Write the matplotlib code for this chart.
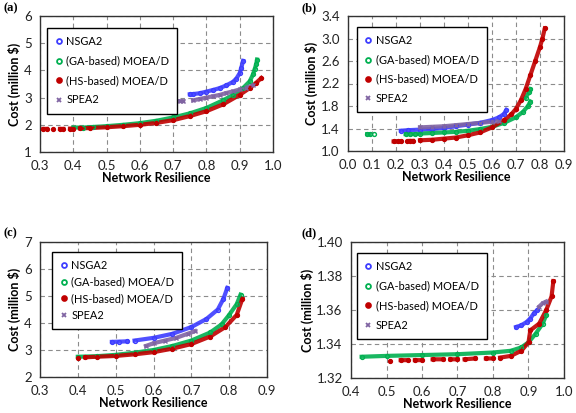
import numpy as np
import matplotlib.pyplot as plt

nan = np.nan

# nan entries only break the band between separate clusters of points

# ---- panel (a) ----
a_nsga_x = [0.75, 0.76, 0.78, 0.80, 0.82, 0.84, 0.86, 0.88, 0.89, 0.90, 0.905, 0.91]
a_nsga_y = [3.12, 3.13, 3.16, 3.22, 3.28, 3.35, 3.45, 3.58, 3.70, 3.90, 4.10, 4.35]
a_ga_x = [0.40, 0.43, 0.46, 0.50, 0.55, 0.60, 0.65, 0.70, 0.75, 0.80, 0.85, 0.88, 0.91, 0.93, 0.94, 0.945, 0.95, 0.952]
a_ga_y = [1.90, 1.90, 1.92, 1.95, 2.00, 2.06, 2.15, 2.27, 2.42, 2.62, 2.90, 3.10, 3.35, 3.60, 3.85, 4.05, 4.25, 4.40]
a_hs_x = [0.31, 0.32, nan, 0.34, nan, 0.36, 0.37, nan, 0.39, 0.40, nan, 0.42, 0.45, 0.50, 0.55, 0.60, 0.65, 0.70, 0.75, 0.80, 0.85, 0.90, 0.93, 0.95, 0.965]
a_hs_y = [1.85, 1.85, nan, 1.85, nan, 1.85, 1.85, nan, 1.86, 1.86, nan, 1.87, 1.88, 1.91, 1.95, 2.00, 2.07, 2.17, 2.32, 2.50, 2.75, 3.10, 3.35, 3.55, 3.72]
a_spea_x = [0.72, 0.73, nan, 0.76, 0.78, 0.80, 0.82, 0.84, 0.86, 0.88, 0.90, 0.92, 0.94]
a_spea_y = [2.87, 2.87, nan, 2.90, 2.95, 3.00, 3.05, 3.10, 3.17, 3.23, 3.30, 3.37, 3.45]

# ---- panel (b) ----
b_nsga_x = [0.22, 0.25, 0.30, 0.35, 0.40, 0.45, 0.50, 0.55, 0.60, 0.63, 0.65, 0.66]
b_nsga_y = [1.36, 1.37, 1.38, 1.39, 1.41, 1.44, 1.47, 1.50, 1.55, 1.60, 1.66, 1.73]
b_ga_x = [0.08, 0.09, nan, 0.11, nan, 0.24, 0.26, 0.28, 0.30, 0.35, 0.40, 0.45, 0.50, 0.55, 0.60, 0.65, 0.70, 0.73, 0.75, 0.76, nan, 0.74, 0.755, 0.76]
b_ga_y = [1.30, 1.30, nan, 1.30, nan, 1.30, 1.30, 1.30, 1.31, 1.32, 1.33, 1.34, 1.36, 1.39, 1.43, 1.50, 1.60, 1.70, 1.80, 1.88, nan, 1.95, 2.05, 2.10]
b_hs_x = [0.19, 0.21, 0.22, nan, 0.245, nan, 0.26, 0.27, nan, 0.30, 0.35, 0.40, 0.45, 0.50, 0.55, 0.60, 0.65, 0.68, 0.70, 0.72, 0.74, 0.76, 0.78, 0.80, 0.81, 0.82]
b_hs_y = [1.17, 1.17, 1.17, nan, 1.18, nan, 1.18, 1.18, nan, 1.19, 1.20, 1.22, 1.24, 1.28, 1.33, 1.42, 1.55, 1.65, 1.75, 1.90, 2.10, 2.35, 2.60, 2.85, 3.00, 3.18]
b_spea_x = [0.30, 0.35, 0.40, 0.45, 0.50, 0.55, 0.60, 0.63]
b_spea_y = [1.42, 1.43, 1.44, 1.46, 1.48, 1.50, 1.52, 1.53]

# ---- panel (c) ----
c_nsga_x = [0.49, 0.51, 0.53, nan, 0.55, 0.60, 0.65, 0.70, 0.74, 0.77, 0.785, 0.795]
c_nsga_y = [3.30, 3.31, 3.32, nan, 3.35, 3.45, 3.60, 3.85, 4.15, 4.50, 4.90, 5.30]
c_ga_x = [0.40, 0.45, 0.50, 0.55, 0.60, 0.65, 0.70, 0.75, 0.78, 0.80, 0.82, 0.83]
c_ga_y = [2.75, 2.77, 2.82, 2.90, 3.00, 3.15, 3.35, 3.65, 3.95, 4.30, 4.70, 5.05]
c_hs_x = [0.40, nan, 0.42, 0.45, 0.50, 0.55, 0.60, 0.65, 0.70, 0.75, 0.79, 0.82, 0.835]
c_hs_y = [2.72, nan, 2.73, 2.75, 2.78, 2.84, 2.92, 3.05, 3.22, 3.50, 3.85, 4.30, 4.90]
c_spea_x = [0.58, 0.60, 0.63, 0.66, 0.69, 0.71]
c_spea_y = [3.15, 3.25, 3.35, 3.45, 3.60, 3.70]

# ---- panel (d) ----
d_nsga_x = [0.865, 0.88, 0.895, 0.905, 0.915, 0.925]
d_nsga_y = [1.350, 1.351, 1.353, 1.355, 1.358, 1.360]
d_ga_x = [0.43, 0.50, 0.60, 0.70, 0.80, 0.85, 0.88, 0.90, 0.92, 0.94, 0.95]
d_ga_y = [1.3325, 1.333, 1.3335, 1.334, 1.335, 1.336, 1.338, 1.341, 1.346, 1.352, 1.357]
d_hs_x = [0.51, nan, 0.54, 0.56, nan, 0.58, 0.60, nan, 0.63, 0.66, nan, 0.68, 0.70, nan, 0.72, 0.75, nan, 0.78, 0.80, nan, 0.82, 0.85, 0.88, 0.90, 0.905, 0.93, 0.95, 0.965, 0.97]
d_hs_y = [1.330, nan, 1.3305, 1.3305, nan, 1.3305, 1.3305, nan, 1.331, 1.331, nan, 1.331, 1.331, nan, 1.331, 1.3315, nan, 1.3315, 1.3315, nan, 1.332, 1.333, 1.336, 1.341, 1.348, 1.352, 1.360, 1.368, 1.377]
d_spea_x = [0.93, 0.94, 0.95]
d_spea_y = [1.362, 1.364, 1.365]

labels = ["NSGA2", "(GA-based) MOEA/D", "(HS-based) MOEA/D", "SPEA2"]
colors = ["#3d3dff", "#00b050", "#c00000", "#8064a2"]
markers = ["o", "o", "o", "x"]
filled = [False, False, True, False]

panels = [
    dict(tag="(a)", tagxy=(3, 8), pos=[40, 16, 273, 152], leg=(0.03, 0.915), lsp=0.78,
         xlim=(0.3, 1.0), ylim=(1, 6),
         xticks=np.arange(0.3, 1.01, 0.1), yticks=np.arange(1, 6.1, 1), yfmt="{:.0f}",
         series=[(a_nsga_x, a_nsga_y), (a_ga_x, a_ga_y), (a_hs_x, a_hs_y), (a_spea_x, a_spea_y)]),
    dict(tag="(b)", tagxy=(301, 8), pos=[348, 16, 564, 151], leg=(0.04, 0.92), lsp=0.76,
         xlim=(0.0, 0.9), ylim=(1.0, 3.4),
         xticks=np.arange(0.0, 0.91, 0.1), yticks=np.arange(1.0, 3.41, 0.4), yfmt="{:.1f}",
         series=[(b_nsga_x, b_nsga_y), (b_ga_x, b_ga_y), (b_hs_x, b_hs_y), (b_spea_x, b_spea_y)]),
    dict(tag="(c)", tagxy=(3, 233), pos=[40, 242, 267, 377], leg=(0.053, 0.926), lsp=0.5,
         xlim=(0.3, 0.9), ylim=(2, 7),
         xticks=np.arange(0.3, 0.91, 0.1), yticks=np.arange(2, 7.1, 1), yfmt="{:.0f}",
         series=[(c_nsga_x, c_nsga_y), (c_ga_x, c_ga_y), (c_hs_x, c_hs_y), (c_spea_x, c_spea_y)]),
    dict(tag="(d)", tagxy=(301, 233), pos=[351, 242, 564, 378], leg=(0.027, 0.92), lsp=0.78,
         xlim=(0.4, 1.0), ylim=(1.32, 1.40),
         xticks=np.arange(0.4, 1.01, 0.1), yticks=np.arange(1.32, 1.401, 0.02), yfmt="{:.2f}",
         series=[(d_nsga_x, d_nsga_y), (d_ga_x, d_ga_y), (d_hs_x, d_hs_y), (d_spea_x, d_spea_y)]),
]

plt.rcParams["font.family"] = ["Lato", "DejaVu Sans"]

W, H = 576, 413
fig = plt.figure(figsize=(W / 100, H / 100), dpi=100)

for p in panels:
    l, t, r, b = p["pos"]
    ax = fig.add_axes([l / W, 1 - b / H, (r - l) / W, (b - t) / H])
    for (xs, ys), lab, col, mk, fl in zip(p["series"], labels, colors, markers, filled):
        # thick band underneath to mimic the dense point cloud
        ax.plot(xs, ys, color=col, lw=3.0, alpha=0.9, zorder=2)
        ax.plot(xs, ys, ls="none", marker=mk, ms=2.8, mew=1.0, color=col,
                mfc=col if fl else "none", zorder=3)
        ax.plot([], [], ls="none", marker=mk, ms=3.5, mew=1.3, color=col,
                mfc=col if fl else "none", label=lab)
    ax.set_xlim(*p["xlim"])
    ax.set_ylim(*p["ylim"])
    ax.set_xticks(p["xticks"])
    ax.set_xticklabels(["{:.1f}".format(v) for v in p["xticks"]])
    ax.set_yticks(p["yticks"])
    ax.set_yticklabels([p["yfmt"].format(v) for v in p["yticks"]])
    ax.tick_params(length=0, labelsize=9.5, pad=6, colors="#222222")
    ax.grid(True, ls=(0, (4, 3)), color="#8c8c8c", lw=0.8, zorder=0)
    ax.set_axisbelow(True)
    for sp in ax.spines.values():
        sp.set_color("#333333")
        sp.set_linewidth(1.0)
    ax.set_xlabel("Network Resilience", fontsize=9, fontweight="bold", labelpad=0)
    ax.set_ylabel("Cost (million $)", fontsize=9, fontweight="bold", labelpad=2)
    leg = ax.legend(loc="upper left", bbox_to_anchor=p["leg"], fontsize=7.9,
                    frameon=True, fancybox=False, edgecolor="black", framealpha=1,
                    handlelength=0.6, handletextpad=0.4, labelspacing=p["lsp"],
                    borderpad=0.75, borderaxespad=0)
    leg.get_frame().set_linewidth(1.0)
    leg.set_zorder(10)
    fig.text(p["tagxy"][0] / W, 1 - p["tagxy"][1] / H, p["tag"], fontsize=9,
             fontweight="bold", family="Liberation Serif", ha="left", va="center")

fig.savefig("out.png", dpi=100)
